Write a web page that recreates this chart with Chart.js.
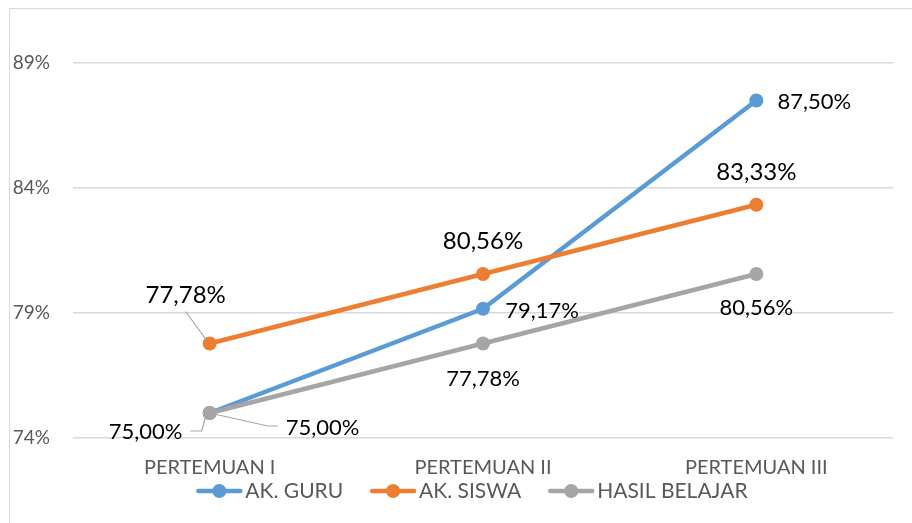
<!DOCTYPE html>
<html>
<head>
<meta charset="utf-8">
<script src="https://cdn.jsdelivr.net/npm/chart.js@4/dist/chart.umd.min.js"></script>
<style>
  html, body { margin: 0; padding: 0; background: #fff; }
  #wrap { position: relative; width: 912px; height: 523px; }
</style>
</head>
<body>
<div id="wrap"><canvas id="myChart" width="912" height="523"></canvas></div>
<script>
// data
var categories = ['PERTEMUAN I', 'PERTEMUAN II', 'PERTEMUAN III'];
var akGuru = [75.00, 79.17, 87.50];
var akSiswa = [77.78, 80.56, 83.33];
var hasilBelajar = [75.00, 77.78, 80.56];
var yTicks = [74, 79, 84, 89];

var FONT = 'Lato, "Liberation Sans", sans-serif';
var colors = ['#5B9BD5', '#ED7D31', '#A5A5A5'];
var labelSize = [22, 24, 22];

// label offsets from the point (dx, dy) and optional leader line
var labelPos = [
    [ {dx: 113, dy: 15, leader: 'right'}, {dx: 59, dy: 2}, {dx: 58, dy: 1} ],
    [ {dx: -24, dy: -48, leader: 'up'}, {dx: 0, dy: -33}, {dx: 0, dy: -32} ],
    [ {dx: -64, dy: 19, leader: 'left'}, {dx: 0, dy: 35}, {dx: 0, dy: 34} ]
];

function fmt(v) {
    return v.toFixed(2).replace('.', ',') + '%';
}

var frame = {
    id: 'frame',
    beforeDraw: function(chart) {
        var c = chart.ctx;
        c.save();
        c.strokeStyle = '#d9d9d9';
        c.lineWidth = 1;
        c.strokeRect(9.5, 8.5, 1000, 1000);
        c.restore();
    }
};

// legend drawn by hand so the line+dot marker and spacing look like Excel
var lineLegend = {
    id: 'lineLegend',
    afterDraw: function(chart) {
        var c = chart.ctx;
        var iconW = 46, gapText = 3, gapItem = 27, cy = 491;
        c.save();
        c.font = '21px ' + FONT;
        c.textBaseline = 'middle';
        var ds = chart.data.datasets;
        var total = 0;
        ds.forEach(function(d, i) {
            total += iconW + gapText + c.measureText(d.label).width + (i ? gapItem : 0);
        });
        var x = 472 - total / 2;
        ds.forEach(function(d) {
            c.strokeStyle = d.borderColor;
            c.fillStyle = d.borderColor;
            c.lineWidth = 4.5;
            c.lineCap = 'round';
            c.beginPath(); c.moveTo(x + 2, cy); c.lineTo(x + iconW - 2, cy); c.stroke();
            c.beginPath(); c.arc(x + iconW / 2, cy, 7, 0, Math.PI * 2); c.fill();
            x += iconW + gapText;
            c.fillStyle = '#595959';
            c.fillText(d.label, x, cy);
            x += c.measureText(d.label).width + gapItem;
        });
        c.restore();
    }
};

var dataLabels = {
    id: 'dataLabels',
    afterDatasetsDraw: function(chart) {
        var c = chart.ctx;
        c.save();
        c.fillStyle = '#000';
        c.textAlign = 'center';
        c.textBaseline = 'middle';
        chart.data.datasets.forEach(function(ds, di) {
            var meta = chart.getDatasetMeta(di);
            c.font = labelSize[di] + 'px ' + FONT;
            meta.data.forEach(function(pt, i) {
                var p = labelPos[di][i];
                var tx = pt.x + p.dx, ty = pt.y + p.dy;
                var txt = fmt(ds.data[i]);
                var w = c.measureText(txt).width;
                if (p.leader) {
                    c.strokeStyle = '#a6a6a6';
                    c.lineWidth = 1.2;
                    c.beginPath();
                    if (p.leader === 'right') {
                        c.moveTo(tx - w / 2 - 8, ty - 2);
                        c.lineTo(tx - w / 2 - 18, ty - 2);
                        c.lineTo(pt.x, pt.y);
                    } else if (p.leader === 'left') {
                        c.moveTo(tx + w / 2 + 8, ty - 1);
                        c.lineTo(pt.x - 8, ty - 1);
                        c.lineTo(pt.x - 3, pt.y);
                    } else {
                        c.moveTo(tx, ty + 16);
                        c.lineTo(pt.x - 3, pt.y - 3);
                    }
                    c.stroke();
                }
                c.fillText(txt, tx, ty);
            });
        });
        c.restore();
    }
};

var ctx = document.getElementById('myChart').getContext('2d');

var myChart = new Chart(ctx, {
    type: 'line',
    data: {
        labels: categories,
        datasets: [{
            label: 'AK. GURU',
            data: akGuru,
            borderColor: colors[0],
            backgroundColor: colors[0],
            order: 3
        }, {
            label: 'AK. SISWA',
            data: akSiswa,
            borderColor: colors[1],
            backgroundColor: colors[1],
            order: 2
        }, {
            label: 'HASIL BELAJAR',
            data: hasilBelajar,
            borderColor: colors[2],
            backgroundColor: colors[2],
            order: 1
        }]
    },
    options: {
        responsive: false,
        animation: false,
        devicePixelRatio: 1,
        elements: {
            line: { borderWidth: 4.5, tension: 0 },
            point: { radius: 7, borderWidth: 0, pointStyle: 'circle' }
        },
        layout: { padding: { left: 9, right: 19, top: 63, bottom: 25 } },
        scales: {
            x: {
                offset: true,
                grid: { display: false, drawTicks: false },
                border: { display: false },
                ticks: { color: '#595959', font: { size: 20, family: FONT }, padding: 18 }
            },
            y: {
                min: 74,
                max: 89,
                afterBuildTicks: function(scale) {
                    scale.ticks = yTicks.map(function(v) { return { value: v }; });
                },
                afterFit: function(scale) { scale.width = 64; },
                grid: { color: '#d9d9d9', lineWidth: 1.5, drawTicks: false },
                border: { display: false },
                ticks: {
                    color: '#595959',
                    font: { size: 19, family: FONT },
                    padding: 23,
                    callback: function(v) { return v + '%'; }
                }
            }
        },
        plugins: {
            legend: { display: false },
            tooltip: { enabled: false }
        }
    },
    plugins: [frame, dataLabels, lineLegend]
});
</script>
</body>
</html>
